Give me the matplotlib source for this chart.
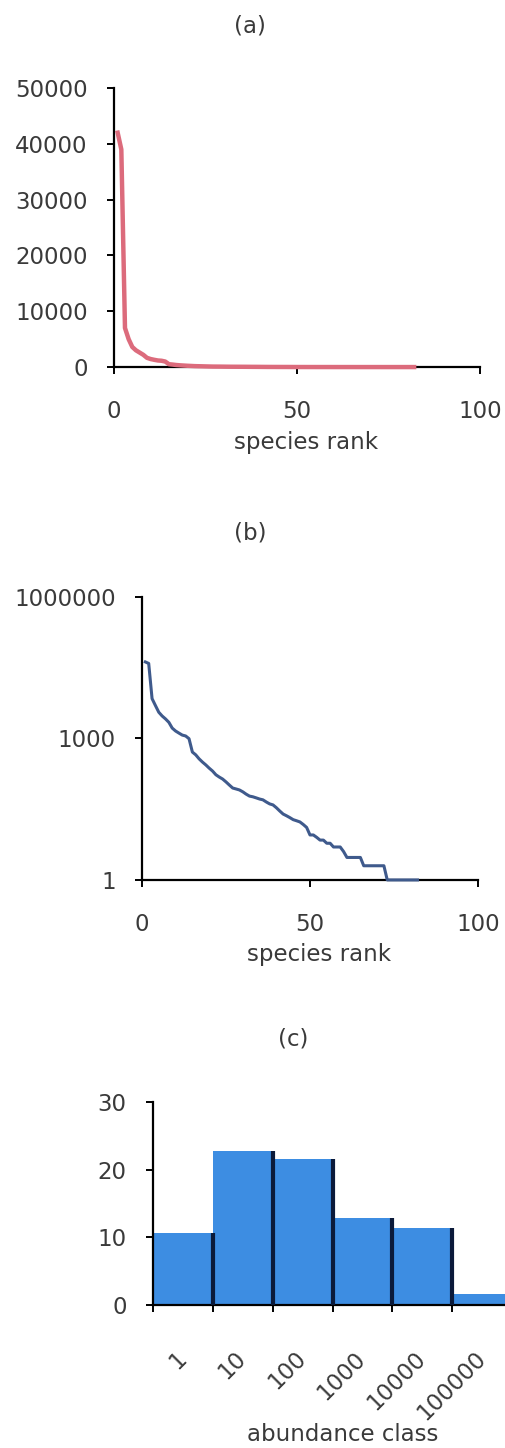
import matplotlib
matplotlib.use('Agg')
import matplotlib.pyplot as plt

rank = list(range(1, 83))
abundance = [42000, 39000, 7000, 5000, 3600, 3000, 2600, 2200, 1660, 1440,
             1300, 1180, 1130, 990, 515, 450, 370, 316, 275, 235,
             204, 170, 152, 138, 120, 103, 89, 85, 81, 74,
             66, 60, 58, 55, 52, 50, 45, 41, 39, 34,
             29, 25, 23, 21, 19, 18, 17, 15, 13, 9,
             9, 8, 7, 7, 6, 6, 5, 5, 5, 4,
             3, 3, 3, 3, 3, 2, 2, 2, 2, 2,
             2, 2, 1, 1, 1, 1, 1, 1, 1, 1,
             1, 1]

# histogram (panel c)
classes = ['1', '10', '100', '1000', '10000', '100000']
counts = [10.7, 22.8, 21.6, 12.8, 11.3, 1.6]

plt.rcParams['font.family'] = ['DejaVu Sans']
fs = 16.5
txt = '#3a3a3a'

fig = plt.figure(figsize=(5.06, 14.48), dpi=100)


def style(ax):
    for s in ['top', 'right']:
        ax.spines[s].set_visible(False)
    for s in ['left', 'bottom']:
        ax.spines[s].set_linewidth(1.6)
        ax.spines[s].set_color('black')
    ax.tick_params(axis='y', direction='out', length=5, width=1.4,
                   labelsize=fs, labelcolor=txt, pad=14)
    ax.tick_params(axis='x', direction='out', length=5, width=1.4,
                   labelsize=fs, labelcolor=txt, pad=19)


# (a) linear
ax1 = fig.add_axes([0.2253, 0.7465, 0.7233, 0.1927])
ax1.plot(rank, abundance, color='#dc6b7c', lw=3.2, clip_on=False, zorder=3)
ax1.set_xlim(0, 100)
ax1.set_ylim(0, 50000)
ax1.set_xticks([0, 50, 100])
ax1.set_yticks([0, 10000, 20000, 30000, 40000, 50000])
style(ax1)
ax1.set_xlabel('species rank', fontsize=fs, color=txt, va='center')
ax1.xaxis.set_label_coords(0.525, -0.272)
fig.text(250/506, 1-26/1448, '(a)', ha='center', va='center', fontsize=fs, color=txt)

# (b) log
ax2 = fig.add_axes([0.2806, 0.3923, 0.664, 0.1954])
ax2.plot(rank, abundance, color='#3f5a8c', lw=2.2, clip_on=False, zorder=3)
ax2.set_yscale('log')
ax2.set_xlim(0, 100)
ax2.set_ylim(1, 1000000)
ax2.set_xticks([0, 50, 100])
ax2.set_yticks([1, 1000, 1000000], ['1', '1000', '1000000'])
ax2.minorticks_off()
style(ax2)
ax2.set_xlabel('species rank', fontsize=fs, color=txt, va='center')
ax2.xaxis.set_label_coords(0.527, -0.265)
fig.text(250/506, 1-533/1448, '(b)', ha='center', va='center', fontsize=fs, color=txt)

# (c) histogram
ax3 = fig.add_axes([0.3024, 0.0988, 0.7095, 0.1402])
pos = list(range(len(classes)))
ax3.bar(pos, counts, width=1.0, color='#3d8de2', edgecolor='none', zorder=2)
ax3.vlines([p + 0.5 for p in pos], 0, counts, color='#0b1a3a', lw=3, zorder=3)
ax3.set_xlim(-0.5, len(classes) - 0.5)
ax3.set_ylim(0, 30)
ax3.set_yticks([0, 10, 20, 30])
style(ax3)
ax3.set_xticks(pos)
ax3.set_xticklabels(classes, rotation=45, ha='right', va='center',
                    rotation_mode='anchor')
ax3.set_xticks([p - 0.5 for p in pos] + [len(classes) - 0.5], minor=True)
ax3.tick_params(axis='x', which='major', length=0, pad=36)
ax3.tick_params(axis='x', which='minor', direction='out', length=5, width=1.4)
ax3.set_xlabel('abundance class', fontsize=fs, color=txt, va='center')
ax3.xaxis.set_label_coords(0.529, -0.640)
fig.text(293/506, 1-1039/1448, '(c)', ha='center', va='center', fontsize=fs, color=txt)

fig.savefig('out.png', dpi=100, facecolor='white')
